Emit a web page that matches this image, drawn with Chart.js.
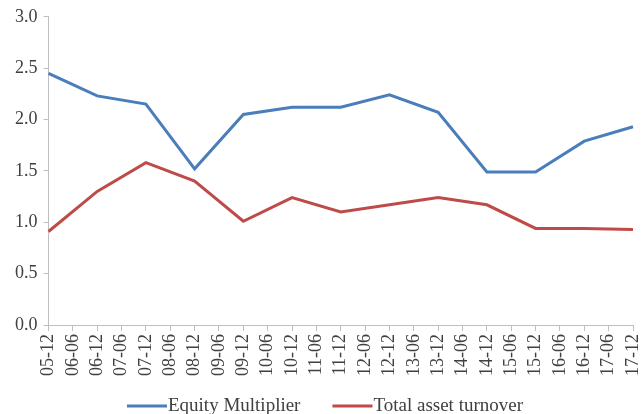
<!DOCTYPE html>
<html>
<head>
<meta charset="utf-8">
<script src="https://cdn.jsdelivr.net/npm/chart.js@4"></script>
<style>
    html, body { margin: 0; padding: 0; background: #fff; }
    #wrap { width: 641px; height: 414px; }
</style>
</head>
<body>
<div id="wrap"><canvas id="chart"></canvas></div>
<script>
// half-year periods on the x axis
const periods = ['05-12', '06-06', '06-12', '07-06', '07-12', '08-06', '08-12', '09-06', '09-12',
    '10-06', '10-12', '11-06', '11-12', '12-06', '12-12', '13-06', '13-12', '14-06', '14-12',
    '15-06', '15-12', '16-06', '16-12', '17-06', '17-12'];

// values only reported at year end (-12), gaps spanned
const equityMultiplier = [2.45, null, 2.23, null, 2.15, null, 1.52, null, 2.05,
    null, 2.12, null, 2.12, null, 2.24, null, 2.07, null, 1.49,
    null, 1.49, null, 1.79, null, 1.93];
const totalAssetTurnover = [0.91, null, 1.30, null, 1.58, null, 1.40, null, 1.01,
    null, 1.24, null, 1.10, null, 1.17, null, 1.24, null, 1.17,
    null, 0.94, null, 0.94, null, 0.93];

const yTicks = [0, 0.5, 1.0, 1.5, 2.0, 2.5, 3.0];

const axisColor = '#bfbfbf';
const textColor = '#404040';
const family = '"Liberation Serif", "Times New Roman", serif';
const tickFont = { family: family, size: 18 };

// excel-like legend: line swatch butted against the text
const bottomLegend = {
    id: 'bottomLegend',
    afterDraw(chart) {
        const ctx = chart.ctx;
        const swatch = 40, itemGap = 33, y = 406;
        ctx.save();
        ctx.font = '19px ' + family;
        const items = chart.data.datasets.map(ds => ({
            text: ds.label, color: ds.borderColor, w: ctx.measureText(ds.label).width
        }));
        let total = items.reduce((s, it) => s + swatch + it.w, 0) + itemGap * (items.length - 1);
        let x = (chart.width - total) / 2 + 4;
        ctx.textBaseline = 'middle';
        items.forEach(it => {
            ctx.strokeStyle = it.color;
            ctx.lineWidth = 3;
            ctx.beginPath();
            ctx.moveTo(x, y);
            ctx.lineTo(x + swatch, y);
            ctx.stroke();
            ctx.fillStyle = textColor;
            ctx.fillText(it.text, x + swatch + 1, y);
            x += swatch + it.w + itemGap;
        });
        ctx.restore();
    }
};

new Chart(document.getElementById('chart'), {
    type: 'line',
    data: {
        labels: periods,
        datasets: [{
            label: 'Equity Multiplier',
            data: equityMultiplier,
            borderColor: '#4a7ebb',
            backgroundColor: '#4a7ebb',
            borderWidth: 3,
            pointRadius: 0,
            spanGaps: true,
            tension: 0
        }, {
            label: 'Total asset turnover',
            data: totalAssetTurnover,
            borderColor: '#be4b48',
            backgroundColor: '#be4b48',
            borderWidth: 3,
            pointRadius: 0,
            spanGaps: true,
            tension: 0
        }]
    },
    options: {
        responsive: true,
        maintainAspectRatio: false,
        animation: false,
        layout: { padding: { top: 6, right: 8, left: 9, bottom: 35 } },
        plugins: {
            legend: { display: false },
            tooltip: { enabled: false }
        },
        scales: {
            x: {
                offset: false,
                afterFit: scale => { scale.paddingRight = 0; },
                grid: {
                    display: true,
                    drawOnChartArea: false,
                    drawTicks: true,
                    tickLength: 6,
                    color: axisColor
                },
                border: { color: axisColor, width: 1 },
                ticks: {
                    autoSkip: false,
                    maxRotation: 90,
                    minRotation: 90,
                    padding: 3,
                    color: textColor,
                    font: tickFont
                }
            },
            y: {
                min: 0,
                max: 3,
                afterBuildTicks: axis => {
                    axis.ticks = yTicks.map(v => ({ value: v }));
                },
                grid: {
                    display: true,
                    drawOnChartArea: false,
                    drawTicks: true,
                    tickLength: 5,
                    color: axisColor
                },
                border: { color: axisColor, width: 1 },
                ticks: {
                    padding: 6,
                    color: textColor,
                    font: tickFont,
                    callback: v => Number(v).toFixed(1)
                }
            }
        }
    },
    plugins: [bottomLegend]
});
</script>
</body>
</html>
